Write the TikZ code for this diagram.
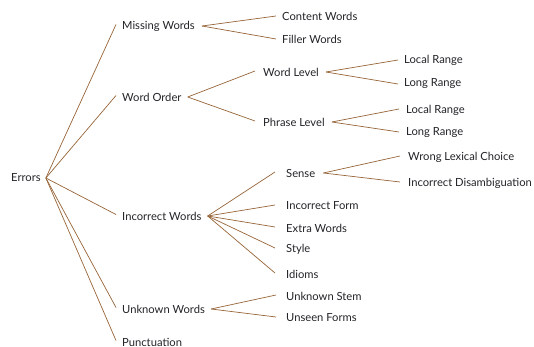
\documentclass[tikz,border=0pt]{standalone}
\usepackage{fontspec}
\setmainfont{Lato}
\definecolor{linec}{RGB}{150,100,55}
\definecolor{textc}{RGB}{35,35,40}
\begin{document}
\begin{tikzpicture}[x=1pt,y=-1pt,
  lab/.style={anchor=west,inner xsep=0pt,inner ysep=2pt,font=\fontsize{11.2}{13}\selectfont,text=textc},
  conn/.style={draw=linec,line width=0.7pt}]
\useasboundingbox (0,0) rectangle (534,347);
% level 0
\node[lab] (err) at (11,178) {Errors};
% level 1
\node[lab] (mw) at (122,26) {Missing Words};
\node[lab] (wo) at (122,97) {Word Order};
\node[lab] (iw) at (122,216) {Incorrect Words};
\node[lab] (uw) at (122,309) {Unknown Words};
\node[lab] (pu) at (122,342) {Punctuation};
% level 2
\node[lab] (cw) at (282,16) {Content Words};
\node[lab] (fw) at (282,39) {Filler Words};
\node[lab] (wl) at (263,72) {Word Level};
\node[lab] (pl) at (263,122) {Phrase Level};
\node[lab] (se) at (286,173) {Sense};
\node[lab] (if) at (286,206) {Incorrect Form};
\node[lab] (ew) at (286,228) {Extra Words};
\node[lab] (st) at (286,249) {Style};
\node[lab] (id) at (286,274) {Idioms};
\node[lab] (us) at (286,296) {Unknown Stem};
\node[lab] (uf) at (286,318) {Unseen Forms};
% level 3
\node[lab] (lr1) at (404,60) {Local Range};
\node[lab] (lo1) at (404,84) {Long Range};
\node[lab] (lr2) at (406,110) {Local Range};
\node[lab] (lo2) at (406,133) {Long Range};
\node[lab] (wlc) at (408,157) {Wrong Lexical Choice};
\node[lab] (idi) at (408,183) {Incorrect Disambiguation};
% anchor points
\coordinate (errE) at ([xshift=5pt]err.east);
\foreach \c in {mw,wo,iw,uw,pu}{\draw[conn] (errE) -- ([xshift=-6pt,yshift=1.5pt]\c.west);}
\coordinate (mwE) at ([xshift=7pt]mw.east);
\foreach \c in {cw,fw}{\draw[conn] (mwE) -- ([xshift=-6pt]\c.west);}
\coordinate (woE) at ([xshift=6pt]wo.east);
\foreach \c in {wl,pl}{\draw[conn] (woE) -- ([xshift=-8pt,yshift=1pt]\c.west);}
\coordinate (wlE) at ([xshift=7pt]wl.east);
\foreach \c in {lr1,lo1}{\draw[conn] (wlE) -- ([xshift=-6pt]\c.west);}
\coordinate (plE) at ([xshift=7pt]pl.east);
\foreach \c in {lr2,lo2}{\draw[conn] (plE) -- ([xshift=-7pt,yshift=1pt]\c.west);}
\coordinate (iwE) at ([xshift=6pt]iw.east);
\foreach \c in {se,if,ew,st,id}{\draw[conn] (iwE) -- ([xshift=-11pt,yshift=1pt]\c.west);}
\coordinate (seE) at ([xshift=8pt]se.east);
\foreach \c in {wlc,idi}{\draw[conn] (seE) -- ([xshift=-8pt,yshift=1pt]\c.west);}
\coordinate (uwE) at ([xshift=6pt]uw.east);
\foreach \c in {us,uf}{\draw[conn] (uwE) -- ([xshift=-10pt,yshift=1pt]\c.west);}
\end{tikzpicture}
\end{document}
